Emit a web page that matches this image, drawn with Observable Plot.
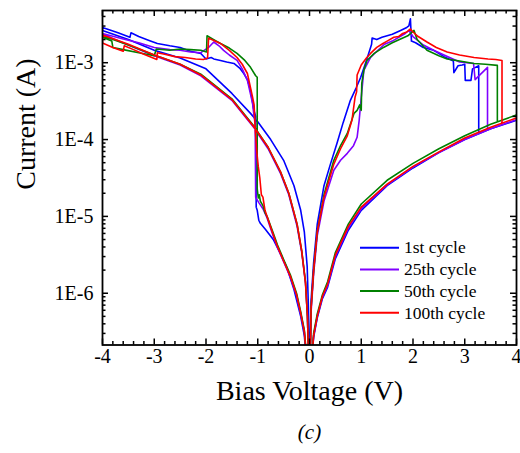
<!DOCTYPE html>
<html><head><meta charset="utf-8">
<script src="https://cdn.jsdelivr.net/npm/d3@7"></script>
<script src="https://cdn.jsdelivr.net/npm/@observablehq/plot@0.6"></script>
<style>
body{margin:0;background:#fff;}
#chart{width:520px;height:453px;}
#chart svg text, #chart svg tspan{font-family:'Liberation Serif','Times New Roman',serif !important;}
</style></head><body><div id="chart"></div>
<script>
// Series names and colours
const cycleNames = ["1st cycle", "25th cycle", "50th cycle", "100th cycle"];
const cycleColors = ["#0000ff", "#8000ff", "#008000", "#ff0000"];

// [bias voltage (V), |current| (A)], in sweep order
const cycle1 = [
  [4.0,1.78e-4],[3.5,1.38e-4],[3.0,1.00e-4],[2.5,6.76e-5],[2.0,4.27e-5],[1.5,2.51e-5],[1.0,1.20e-5],[0.75,6.61e-6],[0.5,2.82e-6],[0.35,1.20e-6],[0.25,8.51e-7],[0.15,4.79e-7],[0.08,2.69e-7],[0.04,1.26e-7],[0.02,3.16e-8],
  [-0.02,3.16e-8],[-0.05,1.12e-7],[-0.1,2.82e-7],[-0.17,5.01e-7],[-0.3,1.12e-6],[-0.43,2.09e-6],[-0.55,3.16e-6],[-0.7,5.01e-6],[-0.85,6.76e-6],[-0.95,8.13e-6],[-0.98,8.91e-6],[-1.01,1.20e-5],[-1.03,1.32e-5],[-1.04,2.00e-4],[-1.08,2.51e-4],
  [-1.14,4.37e-4],[-1.2,6.03e-4],[-1.27,7.24e-4],[-1.35,8.51e-4],[-1.46,9.77e-4],[-1.6,1.02e-3],[-1.72,1.07e-3],[-1.85,1.12e-3],[-1.9,1.17e-3],[-2.0,1.12e-3],[-2.1,1.32e-3],[-2.3,1.41e-3],[-2.5,1.58e-3],[-2.7,1.66e-3],[-2.94,1.78e-3],[-3.1,1.95e-3],[-3.3,2.19e-3],[-3.45,2.45e-3],[-3.47,2.14e-3],[-3.7,2.45e-3],[-4.0,2.88e-3],
  [-4.0,2.63e-3],[-3.5,2.00e-3],[-3.0,1.45e-3],[-2.5,1.15e-3],[-2.0,8.32e-4],[-1.5,3.98e-4],[-1.14,2.19e-4],[-1.0,1.70e-4],[-0.75,1.00e-4],[-0.5,5.37e-5],[-0.3,2.51e-5],[-0.17,1.20e-5],[-0.1,6.31e-6],[-0.045,2.24e-6],[-0.02,6.31e-7],[-0.01,2.00e-7],[-0.003,3.16e-8],
  [0.003,3.16e-8],[0.01,1.78e-7],[0.03,7.94e-7],[0.08,2.51e-6],[0.15,7.94e-6],[0.28,2.51e-5],[0.4,4.68e-5],[0.53,8.91e-5],[0.65,1.66e-4],[0.79,3.24e-4],[0.9,4.68e-4],[0.99,6.46e-4],[1.1,1.07e-3],[1.2,1.74e-3],[1.21,2.09e-3],
  [1.3,2.00e-3],[1.4,2.14e-3],[1.5,2.24e-3],[1.6,2.34e-3],[1.76,2.63e-3],[1.88,2.88e-3],[1.92,3.02e-3],[1.95,3.72e-3],[1.97,1.91e-3],[2.05,1.82e-3],[2.2,1.58e-3],[2.4,1.45e-3],[2.6,1.20e-3],[2.78,1.05e-3],[2.79,7.41e-4],[2.87,9.12e-4],[2.95,9.33e-4],[3.0,9.55e-4],[3.01,5.89e-4],[3.12,5.89e-4],[3.15,8.32e-4],[3.27,9.12e-4],[3.27,1.20e-4]
];
const cycle25 = [
  [4.0,1.82e-4],[3.5,1.38e-4],[3.0,1.00e-4],[2.5,6.76e-5],[2.0,4.37e-5],[1.5,2.57e-5],[1.0,1.26e-5],[0.75,7.08e-6],[0.5,3.02e-6],[0.35,1.26e-6],[0.25,8.91e-7],[0.15,5.01e-7],[0.08,2.82e-7],[0.04,1.26e-7],[0.02,3.16e-8],
  [-0.02,3.16e-8],[-0.05,1.26e-7],[-0.1,3.16e-7],[-0.17,5.37e-7],[-0.25,9.33e-7],[-0.37,1.62e-6],[-0.5,2.57e-6],[-0.62,3.98e-6],[-0.72,6.03e-6],[-0.82,9.55e-6],[-0.9,1.26e-5],[-0.98,1.51e-5],[-1.04,1.78e-5],[-1.05,1.58e-4],
  [-1.08,2.24e-4],[-1.1,2.95e-4],[-1.2,5.89e-4],[-1.3,8.32e-4],[-1.4,1.07e-3],[-1.55,1.26e-3],[-1.66,1.45e-3],[-1.75,1.66e-3],[-1.85,1.86e-3],[-1.95,1.58e-3],[-2.1,1.35e-3],[-2.3,1.38e-3],[-2.5,1.45e-3],[-2.7,1.48e-3],[-3.0,1.58e-3],[-3.3,1.82e-3],[-3.6,2.04e-3],[-4.0,2.40e-3],
  [-4.0,2.34e-3],[-3.5,1.70e-3],[-3.0,1.23e-3],[-2.5,9.33e-4],[-2.1,6.76e-4],[-1.5,3.24e-4],[-1.08,1.45e-4],[-0.8,7.59e-5],[-0.56,3.63e-5],[-0.4,1.91e-5],[-0.24,7.41e-6],[-0.15,3.39e-6],[-0.077,1.35e-6],[-0.04,5.01e-7],[-0.015,1.26e-7],[-0.005,3.16e-8],
  [0.005,3.16e-8],[0.015,1.26e-7],[0.03,5.62e-7],[0.08,1.78e-6],[0.15,5.62e-6],[0.28,1.58e-5],[0.47,3.98e-5],[0.6,5.37e-5],[0.73,6.61e-5],[0.85,8.32e-5],[0.92,1.07e-4],[0.96,1.78e-4],[1.0,3.55e-4],[1.05,7.94e-4],[1.18,1.17e-3],
  [1.3,1.41e-3],[1.45,1.74e-3],[1.6,1.91e-3],[1.75,2.19e-3],[1.85,2.40e-3],[1.92,2.63e-3],[2.0,2.19e-3],[2.2,1.70e-3],[2.4,1.45e-3],[2.6,1.26e-3],[2.9,1.02e-3],[3.17,9.77e-4],[3.2,6.03e-4],[3.44,8.71e-4],[3.44,1.38e-4]
];
const cycle50 = [
  [4.0,2.09e-4],[3.5,1.58e-4],[3.0,1.12e-4],[2.5,7.59e-5],[2.0,4.90e-5],[1.5,2.95e-5],[1.0,1.45e-5],[0.75,7.94e-6],[0.5,3.39e-6],[0.35,1.41e-6],[0.25,9.55e-7],[0.15,5.37e-7],[0.08,3.02e-7],[0.04,1.26e-7],[0.02,3.16e-8],
  [-0.02,3.16e-8],[-0.05,1.32e-7],[-0.1,3.31e-7],[-0.17,5.75e-7],[-0.25,1.00e-6],[-0.37,1.74e-6],[-0.5,2.75e-6],[-0.62,4.27e-6],[-0.72,6.61e-6],[-0.82,1.00e-5],[-0.86,1.12e-5],[-0.9,1.38e-5],[-0.95,1.58e-5],[-0.97,1.91e-5],[-0.99,1.74e-5],[-1.01,2.29e-5],[-1.01,6.46e-4],
  [-1.04,6.76e-4],[-1.14,8.71e-4],[-1.25,1.07e-3],[-1.4,1.32e-3],[-1.55,1.55e-3],[-1.72,1.78e-3],[-1.85,2.00e-3],[-1.98,2.24e-3],[-1.99,1.38e-3],[-2.1,1.45e-3],[-2.3,1.48e-3],[-2.5,1.51e-3],[-2.7,1.45e-3],[-2.96,1.51e-3],[-3.0,1.23e-3],[-3.3,1.35e-3],[-3.6,1.48e-3],[-3.8,1.58e-3],[-3.82,1.91e-3],[-4.0,2.14e-3],
  [-4.0,2.24e-3],[-3.5,1.70e-3],[-3.0,1.26e-3],[-2.5,9.55e-4],[-2.1,7.08e-4],[-1.5,3.39e-4],[-1.08,1.51e-4],[-0.8,7.94e-5],[-0.56,3.80e-5],[-0.4,2.00e-5],[-0.24,7.94e-6],[-0.15,3.55e-6],[-0.077,1.41e-6],[-0.04,5.01e-7],[-0.015,1.26e-7],[-0.005,3.16e-8],
  [0.005,3.16e-8],[0.015,1.26e-7],[0.03,6.31e-7],[0.08,2.00e-6],[0.15,6.31e-6],[0.28,1.91e-5],[0.47,5.37e-5],[0.6,8.32e-5],[0.73,1.20e-4],[0.86,2.19e-4],[0.92,2.40e-4],[0.97,2.82e-4],[1.0,2.40e-4],[1.01,5.37e-4],
  [1.05,7.94e-4],[1.11,1.07e-3],[1.25,1.32e-3],[1.43,1.58e-3],[1.6,1.82e-3],[1.76,2.04e-3],[1.9,2.24e-3],[2.02,2.63e-3],[2.08,2.00e-3],[2.27,1.45e-3],[2.5,1.23e-3],[2.66,1.12e-3],[2.9,1.05e-3],[3.18,9.77e-4],[3.4,9.55e-4],[3.63,9.23e-4],[3.63,1.72e-4]
];
const cycle100 = [
  [4.0,1.91e-4],[3.5,1.45e-4],[3.0,1.05e-4],[2.5,6.92e-5],[2.0,4.47e-5],[1.5,2.63e-5],[1.0,1.32e-5],[0.75,7.41e-6],[0.5,3.16e-6],[0.35,1.32e-6],[0.25,9.12e-7],[0.15,5.01e-7],[0.08,2.82e-7],[0.04,1.26e-7],[0.02,3.16e-8],
  [-0.02,3.16e-8],[-0.05,1.26e-7],[-0.1,3.16e-7],[-0.17,5.50e-7],[-0.25,9.55e-7],[-0.37,1.66e-6],[-0.5,2.63e-6],[-0.62,4.07e-6],[-0.72,6.31e-6],[-0.82,1.00e-5],[-0.86,1.20e-5],[-0.9,1.78e-5],[-0.93,1.91e-5],[-0.96,3.16e-5],[-0.99,4.47e-5],[-1.02,7.08e-5],[-1.05,1.41e-4],[-1.07,2.82e-4],
  [-1.1,3.55e-4],[-1.2,7.24e-4],[-1.3,9.55e-4],[-1.4,1.17e-3],[-1.55,1.45e-3],[-1.72,1.78e-3],[-1.85,1.95e-3],[-1.95,2.09e-3],[-1.97,1.15e-3],[-2.05,1.10e-3],[-2.2,1.12e-3],[-2.4,1.17e-3],[-2.6,1.20e-3],[-2.8,1.29e-3],[-2.94,1.35e-3],[-2.95,1.10e-3],[-3.2,1.29e-3],[-3.4,1.48e-3],[-3.58,1.66e-3],[-3.6,1.41e-3],[-3.8,1.58e-3],[-4.0,1.80e-3],
  [-4.0,2.29e-3],[-3.5,1.74e-3],[-3.0,1.26e-3],[-2.5,9.55e-4],[-2.1,6.92e-4],[-1.5,3.31e-4],[-1.08,1.48e-4],[-0.8,7.94e-5],[-0.56,3.80e-5],[-0.4,2.00e-5],[-0.24,7.94e-6],[-0.15,3.55e-6],[-0.077,1.35e-6],[-0.04,5.01e-7],[-0.015,1.26e-7],[-0.005,3.16e-8],
  [0.005,3.16e-8],[0.015,1.26e-7],[0.03,6.31e-7],[0.08,2.00e-6],[0.15,6.31e-6],[0.28,1.78e-5],[0.47,4.79e-5],[0.6,7.59e-5],[0.73,1.12e-4],[0.82,1.78e-4],[0.88,3.55e-4],[0.91,4.17e-4],[0.92,6.92e-4],
  [1.0,9.33e-4],[1.1,1.15e-3],[1.18,1.32e-3],[1.3,1.58e-3],[1.42,1.78e-3],[1.5,1.91e-3],[1.63,2.14e-3],[1.72,2.19e-3],[1.8,2.40e-3],[1.88,2.51e-3],[1.95,2.75e-3],[2.0,2.51e-3],[2.1,2.19e-3],[2.27,1.86e-3],[2.45,1.58e-3],[2.66,1.38e-3],[2.9,1.26e-3],[3.18,1.17e-3],[3.45,1.12e-3],[3.6,1.10e-3],[3.72,1.07e-3],[3.72,1.62e-4]
];

// Axis ticks and labels
const xTicks = [-4, -3, -2, -1, 0, 1, 2, 3, 4];
const xTickLabels = ["-4", "-3", "-2", "-1", "0", "1", "2", "3", "4"];
const yTicks = [1e-6, 1e-5, 1e-4, 1e-3];
const yTickLabels = ["1E-6", "1E-5", "1E-4", "1E-3"];
const xDomain = [-4, 4];
const yDomain = [2.12e-7, 4.78e-3];
const xTitle = "Bias Voltage (V)";
const yTitle = "Current (A)";
const caption = "(c)";

const W = 520, H = 453, mL = 102, mR = 4, mT = 10, mB = 108.5;
const fw = W - mL - mR, fh = H - mT - mB;
const serif = "Liberation Serif, Times New Roman, serif";

const series = [cycle1, cycle25, cycle50, cycle100];
const rows = series.flatMap((s, k) => s.map(([V, I], i) => ({V, I, k, i})));

const xMinor = d3.ticks(-4, 4, 40).filter(v => Math.abs(v - Math.round(v)) > 1e-9);
const yMinor = d3.scaleLog().domain(yDomain).ticks().filter(v => {
  const l = Math.log10(v); return Math.abs(l - Math.round(l)) > 1e-9;
});
const xLab = new Map(xTicks.map((t, i) => [t, xTickLabels[i]]));
const yLab = new Map(yTicks.map((t, i) => [t, yTickLabels[i]]));

const tickW = 1.5, major = 6, minor = 3.5;
const plot = Plot.plot({
  width: W, height: H,
  marginLeft: mL, marginRight: mR, marginTop: mT, marginBottom: mB,
  style: {fontFamily: serif, background: "white", color: "black", overflow: "visible"},
  x: {domain: xDomain, type: "linear"},
  y: {domain: yDomain, type: "log"},
  marks: [
    ...series.map((s, k) => Plot.line(rows.filter(r => r.k === k), {
      x: "V", y: "I", stroke: cycleColors[k], strokeWidth: 1.6, clip: true, curve: "linear"
    })),
    // ticks (inward, on all four sides)
    Plot.tickX(xTicks, {x: d => d, insetTop: fh - major, strokeWidth: tickW}),
    Plot.tickX(xTicks, {x: d => d, insetBottom: fh - major, strokeWidth: tickW}),
    Plot.tickX(xMinor, {x: d => d, insetTop: fh - minor, strokeWidth: tickW}),
    Plot.tickX(xMinor, {x: d => d, insetBottom: fh - minor, strokeWidth: tickW}),
    Plot.tickY(yTicks, {y: d => d, insetRight: fw - major, strokeWidth: tickW}),
    Plot.tickY(yTicks, {y: d => d, insetLeft: fw - major, strokeWidth: tickW}),
    Plot.tickY(yMinor, {y: d => d, insetRight: fw - minor, strokeWidth: tickW}),
    Plot.tickY(yMinor, {y: d => d, insetLeft: fw - minor, strokeWidth: tickW}),
    Plot.frame({stroke: "black", strokeWidth: 1.8}),
    Plot.axisX(xTicks, {anchor: "bottom", tickSize: 0, tickPadding: 4, fontSize: 20, fontFamily: serif, tickFormat: d => xLab.get(d), label: null}),
    Plot.axisY(yTicks, {anchor: "left", tickSize: 0, tickPadding: 9, fontSize: 20, fontFamily: serif, tickFormat: d => yLab.get(d), label: null}),
    Plot.text([xTitle], {text: d => d, frameAnchor: "bottom", dy: 55, fontSize: 28, fontFamily: serif}),
    Plot.text([yTitle], {text: d => d, frameAnchor: "left", rotate: -90, dx: -76, dy: 12, fontSize: 28, fontFamily: serif}),
    Plot.text([caption], {text: d => d, frameAnchor: "bottom", dy: 93.5, fontSize: 21, fontStyle: "italic", fontFamily: serif})
  ]
});
document.getElementById("chart").appendChild(plot);

// Legend inside the plot area
const svg = d3.select(plot);
const lg = svg.append("g").attr("font-family", serif).attr("font-size", 17.5).attr("text-anchor", "start");
cycleNames.forEach((name, i) => {
  const y = 247.7 + i * 21.7;
  lg.append("line").attr("x1", 360).attr("x2", 399).attr("y1", y).attr("y2", y)
    .attr("stroke", cycleColors[i]).attr("stroke-width", 2);
  lg.append("text").attr("x", 404).attr("y", y).attr("dy", "0.33em").attr("fill", "black")
    .attr("text-anchor", "start").text(name);
});
</script></body></html>
